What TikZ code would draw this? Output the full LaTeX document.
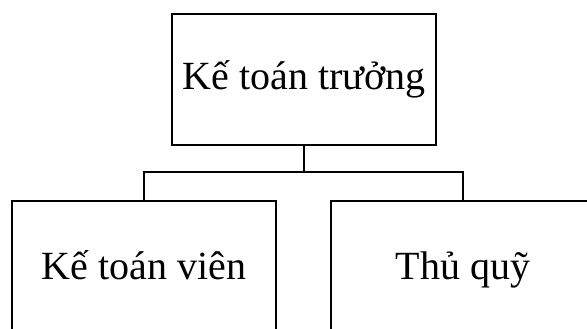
\documentclass[tikz,border=0pt]{standalone}
\usepackage{fontspec}
\setmainfont{Liberation Serif}
\begin{document}
\begin{tikzpicture}[x=1pt,y=-1pt,
  orgbox/.style={draw,line width=2pt,minimum width=264pt,minimum height=131pt,inner sep=0pt,font=\fontsize{40}{44}\selectfont},
  conn/.style={line width=2pt}]
\useasboundingbox (0,0) rectangle (587,329);
\clip (0,0) rectangle (587,329);
\node[orgbox,text height=21pt,text depth=0pt] (top) at (304,79.5) {Kế toán trưởng};
\node[orgbox,text height=25pt,text depth=0pt] (left) at (144,266.5) {Kế toán viên};
\node[orgbox,text height=25pt,text depth=0pt] (right) at (463,266.5) {Thủ quỹ};
\coordinate (j) at (304,172);
\draw[conn] (top.south) -- (j);
\draw[conn] (left.north) |- (j) -| (right.north);
\end{tikzpicture}
\end{document}
